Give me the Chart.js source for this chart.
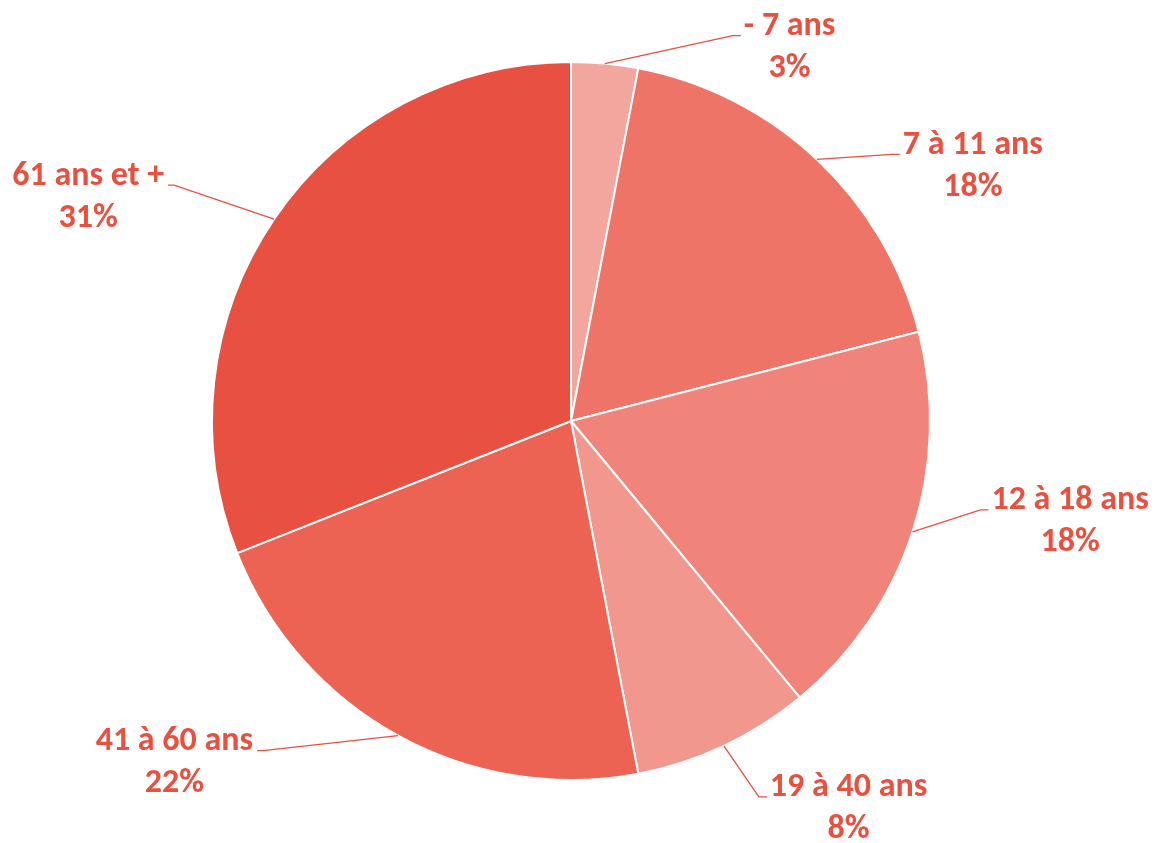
<!DOCTYPE html>
<html lang="fr">
<head>
<meta charset="utf-8">
<title>Répartition par âge</title>
<script src="https://cdn.jsdelivr.net/npm/chart.js@4.4.1/dist/chart.umd.min.js"></script>
<style>
  html, body { margin: 0; padding: 0; background: #fff; }
  #wrap { width: 1165px; height: 843px; position: relative; }
</style>
</head>
<body>
<div id="wrap"><canvas id="pie"></canvas></div>
<script>
// données
const categories = ['- 7 ans', '7 à 11 ans', '12 à 18 ans', '19 à 40 ans', '41 à 60 ans', '61 ans et +'];
const values = [3, 18, 18, 8, 22, 31];
const sliceColors = ['#F3A69E', '#EE7468', '#F0847A', '#F2978D', '#EC6354', '#E85142'];

const textColor = '#E8503F';
const labelFont = "bold 34px 'Carlito', 'Lato', sans-serif";

// coude de chaque ligne de rappel, relatif au point d'ancrage sur l'arc
const elbows = [[128, -28], [75, -5], [68, -22], [35, 51], [-135, 15], [-100, -34]];

const leaderLabels = {
  id: 'leaderLabels',
  afterDatasetsDraw(chart) {
    const ctx = chart.ctx;
    const meta = chart.getDatasetMeta(0);
    const total = values.reduce((a, b) => a + b, 0);
    ctx.save();
    ctx.font = labelFont;
    ctx.fillStyle = textColor;
    ctx.strokeStyle = textColor;
    ctx.lineWidth = 1.3;
    ctx.textBaseline = 'middle';
    ctx.textAlign = 'center';
    meta.data.forEach((arc, i) => {
      const p = arc.getProps(['x', 'y', 'startAngle', 'endAngle', 'outerRadius'], true);
      const mid = (p.startAngle + p.endAngle) / 2;
      const ax = p.x + Math.cos(mid) * p.outerRadius;
      const ay = p.y + Math.sin(mid) * p.outerRadius;
      const ex = ax + elbows[i][0];
      const ey = ay + elbows[i][1];
      const right = elbows[i][0] > 0;
      const hx = ex + (right ? 8 : -6);

      ctx.beginPath();
      ctx.moveTo(ax, ay);
      ctx.lineTo(ex, ey);
      ctx.lineTo(hx, ey);
      ctx.stroke();

      const l1 = categories[i];
      const l2 = Math.round(values[i] / total * 100) + '%';
      const w = Math.max(ctx.measureText(l1).width, ctx.measureText(l2).width);
      const cx = right ? hx + 3 + w / 2 : hx - 4 - w / 2;
      const ty = ey - 9;
      ctx.fillText(l1, cx, ty);
      ctx.fillText(l2, cx, ty + 42);
    });
    ctx.restore();
  }
};

new Chart(document.getElementById('pie'), {
  type: 'pie',
  data: {
    labels: categories,
    datasets: [{
      data: values,
      backgroundColor: sliceColors,
      borderColor: '#ffffff',
      borderWidth: 2,
      hoverOffset: 0
    }]
  },
  options: {
    responsive: true, maintainAspectRatio: false,
    animation: false,
    layout: { padding: { top: 61, bottom: 62, left: 211, right: 234 } },
    plugins: { legend: { display: false }, tooltip: { enabled: false } }
  },
  plugins: [leaderLabels]
});
</script>
</body>
</html>
